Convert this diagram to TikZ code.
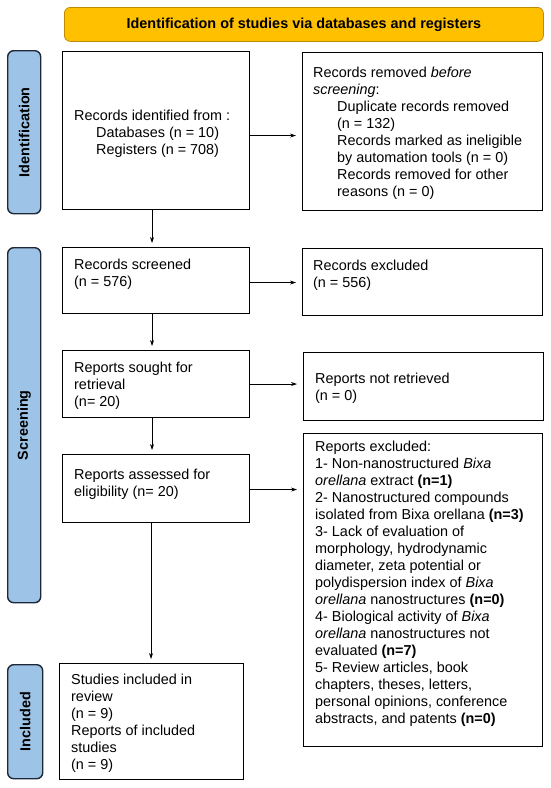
\documentclass[tikz,border=0pt]{standalone}
\usepackage{fontspec}
\setmainfont{Liberation Sans}
\usetikzlibrary{arrows.meta}
\definecolor{bannerfill}{RGB}{255,192,0}
\definecolor{bannerdraw}{RGB}{190,140,0}
\definecolor{sidefill}{RGB}{157,195,230}
\definecolor{sidedraw}{RGB}{30,40,55}
\begin{document}
\begin{tikzpicture}[x=1pt,y=-1pt,
 box/.style={draw=black, line width=1.1pt, inner sep=0pt, anchor=north west},
 txt/.style={inner sep=0pt, anchor=north west, align=left, font=\fontsize{14.4}{17}\selectfont},
 side/.style={draw=sidedraw, fill=sidefill, line width=1.4pt, rounded corners=6pt, inner sep=0pt, anchor=north west},
 sidetxt/.style={rotate=90, inner sep=0pt, font=\fontsize{14.4}{17}\selectfont\bfseries},
 banner/.style={draw=bannerdraw, fill=bannerfill, line width=0.8pt, rounded corners=6pt, inner sep=0pt, anchor=north west, font=\fontsize{14.4}{17}\selectfont\bfseries},
 arr/.style={-{Stealth[length=6pt,width=4pt]}, line width=0.7pt}]
\useasboundingbox (0,0) rectangle (550,788);

% banner
\node[banner, minimum width=479pt, minimum height=34pt] (ban) at (64,7) {Identification of studies via databases and registers};

% side bars
\node[side, minimum width=33pt, minimum height=163pt] (s1) at (7,50) {};
\node[sidetxt] (s1t) at (s1.center) {Identification};
\node[side, minimum width=33pt, minimum height=355pt] (s2) at (7,247) {};
\node[sidetxt] (s2t) at (s2.center) {Screening};
\node[side, minimum width=35pt, minimum height=114pt] (s3) at (7,664) {};
\node[sidetxt] (s3t) at (s3.center) {Included};

% boxes
\node[box, minimum width=187pt, minimum height=158pt] (b1) at (62,51) {};
\node[box, minimum width=240pt, minimum height=158pt] (r1) at (302,52) {};
\node[box, minimum width=187pt, minimum height=66pt] (b2) at (62,247) {};
\node[box, minimum width=240pt, minimum height=67pt] (r2) at (302,248) {};
\node[box, minimum width=187pt, minimum height=67pt] (b3) at (62,350) {};
\node[box, minimum width=240pt, minimum height=68pt] (r3) at (303,352) {};
\node[box, minimum width=187pt, minimum height=68pt] (b4) at (62,454) {};
\node[box, minimum width=239pt, minimum height=313pt] (r4) at (303,433) {};
\node[box, minimum width=184pt, minimum height=116pt] (b5) at (59,663) {};

% texts
\node[txt] (t1) at (74,109.5) {Records identified from :\\\hspace*{22pt}Databases (n = 10)\\\hspace*{22pt}Registers (n = 708)};
\node[txt] (u1) at (313,67) {Records removed \textit{before}\\\textit{screening}:\\
\hspace*{24pt}Duplicate records removed\\
\hspace*{24pt}(n = 132)\\
\hspace*{24pt}Records marked as ineligible\\
\hspace*{24pt}by automation tools (n = 0)\\
\hspace*{24pt}Records removed for other\\
\hspace*{24pt}reasons (n = 0)};
\node[txt] (t2) at (74,258.5) {Records screened\\(n = 576)};
\node[txt] (u2) at (313,259.5) {Records excluded\\(n = 556)};
\node[txt] (t3) at (74,361.5) {Reports sought for\\retrieval\\(n= 20)};
\node[txt] (u3) at (315,372.5) {Reports not retrieved\\(n = 0)};
\node[txt] (t4) at (74,468.5) {Reports assessed for\\eligibility (n= 20)};
\node[txt] (u4) at (315,440.5) {Reports excluded:\\
1- Non-nanostructured \textit{Bixa}\\
\textit{orellana} extract \textbf{(n=1)}\\
2- Nanostructured compounds\\
isolated from Bixa orellana \textbf{(n=3)}\\
3- Lack of evaluation of\\
morphology, hydrodynamic\\
diameter, zeta potential or\\
polydispersion index of \textit{Bixa}\\
\textit{orellana} nanostructures \textbf{(n=0)}\\
4- Biological activity of \textit{Bixa}\\
\textit{orellana} nanostructures not\\
evaluated \textbf{(n=7)}\\
5- Review articles, book\\
chapters, theses, letters,\\
personal opinions, conference\\
abstracts, and patents \textbf{(n=0)}};
\node[txt] (t5) at (71,673.5) {Studies included in\\review\\(n = 9)\\Reports of included\\studies\\(n = 9)};

% connectors
\draw[arr, shorten >=4pt] ([xshift=-4pt]b1.south) -- ([xshift=-4pt]b1.south |- b2.north);
\draw[arr, shorten >=4pt] ([xshift=-4pt]b2.south) -- ([xshift=-4pt]b2.south |- b3.north);
\draw[arr, shorten >=4pt] ([xshift=-4pt]b3.south) -- ([xshift=-4pt]b3.south |- b4.north);
\draw[arr, shorten >=4pt] ([xshift=-5pt]b4.south) -- ([xshift=-5pt]b4.south |- b5.north);
\draw[arr, shorten >=6pt] ([yshift=-5pt]b1.east) -- ([yshift=-5pt]b1.east -| r1.west);
\draw[arr, shorten >=6pt] ([yshift=-2pt]b2.east) -- ([yshift=-2pt]b2.east -| r2.west);
\draw[arr, shorten >=6pt] (b3.east) -- (b3.east -| r3.west);
\draw[arr, shorten >=6pt] ([yshift=-1pt]b4.east) -- ([yshift=-1pt]b4.east -| r4.west);
\end{tikzpicture}
\end{document}
